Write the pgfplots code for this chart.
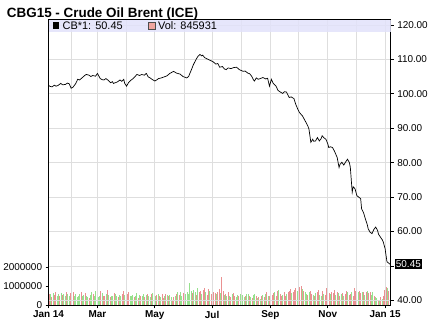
\documentclass[border=0pt]{standalone}
\usepackage{pgfplots}
\usepackage{pgfplotstable}
\pgfplotsset{compat=1.18}
\usepackage{fontspec}
\setmainfont{Liberation Sans}
\definecolor{gridc}{RGB}{222,222,222}
\definecolor{bandc}{RGB}{226,226,250}
\definecolor{volg}{RGB}{150,225,140}
\definecolor{volr}{RGB}{234,145,145}
\definecolor{legp}{RGB}{240,165,160}

% volume in thousands, u=1 up day (green), u=0 down day (red)
\pgfplotstableread{
v u
620 0
580 1
450 0
640 1
560 0
700 0
520 1
600 1
480 0
650 1
540 0
610 1
470 1
690 0
580 1
510 1
630 0
560 1
720 0
500 1
590 1
450 1
520 1
600 1
710 0
480 1
560 1
640 0
500 1
420 1
380 0
560 1
680 1
620 0
500 1
740 1
580 0
450 1
520 1
760 0
640 1
520 0
480 0
600 1
820 0
560 1
430 0
520 1
480 1
650 0
580 1
470 1
420 0
560 1
500 1
620 0
780 0
540 1
450 1
600 0
720 0
510 1
480 1
560 1
420 0
500 1
640 1
380 0
560 1
470 0
520 1
610 1
450 0
540 1
600 0
500 1
420 1
580 0
660 1
520 0
480 1
560 0
610 1
520 0
460 1
580 0
400 0
500 1
620 0
540 1
480 0
560 1
420 1
300 0
460 0
520 1
600 0
680 1
540 0
720 1
480 1
650 0
760 1
580 1
700 1
620 1
1180 1
780 1
650 0
820 1
700 1
560 0
900 1
680 0
760 0
620 1
820 0
940 0
700 1
560 0
880 0
740 1
600 0
820 1
700 0
640 0
580 1
720 0
880 0
660 1
1480 0
760 0
540 1
620 0
480 1
700 0
520 1
460 0
580 1
640 0
500 0
420 1
560 1
480 0
620 1
700 0
540 1
460 1
520 0
580 1
620 1
500 0
440 1
400 0
560 1
620 1
480 0
380 1
420 0
360 1
500 0
560 1
440 0
620 1
680 0
520 1
480 0
400 1
560 0
640 0
700 1
520 0
740 0
800 1
620 0
480 0
560 1
680 0
520 0
600 1
720 0
780 0
860 0
640 1
700 0
820 0
900 0
760 1
680 0
960 0
1020 0
860 1
780 0
700 1
620 1
560 0
680 1
740 0
620 0
560 1
500 0
640 1
700 0
820 0
560 1
480 1
760 0
620 1
540 0
900 0
780 1
640 0
580 1
700 0
640 0
820 0
560 1
720 0
660 1
500 0
580 1
640 0
520 1
600 0
760 0
680 1
560 0
620 0
700 1
480 0
900 0
760 0
820 0
700 1
760 0
640 0
720 1
680 0
560 1
700 0
780 1
640 0
720 0
560 1
680 1
500 0
440 1
380 1
300 0
260 1
420 0
360 1
480 0
820 0
960 0
900 1
760 0
880 0
}\voltable

\begin{document}
\begin{tikzpicture}
% ---------- volume axis ----------
\begin{axis}[
  at={(0pt,0pt)}, anchor=south west,
  width=344pt, height=287pt, scale only axis,
  xmin=-0.5, xmax=257.5, ymin=0, ymax=15000,
  xtick=\empty,
  axis line style={draw=none},
  scaled y ticks=false,
  ytick={0,1000,2000}, yticklabels={0,1000000,2000000},
  ytick pos=left, tick align=outside, major tick length=3pt,
  tick style={black, line width=0.6pt},
  yticklabel style={font=\fontsize{10}{12}\selectfont},
]
\addplot[ycomb, volg, line width=0.9pt, mark=none]
  table[x expr=\coordindex, y expr={\thisrow{v}*\thisrow{u}}]{\voltable};
\addplot[ycomb, volr, line width=0.9pt, mark=none]
  table[x expr=\coordindex, y expr={\thisrow{v}*(1-\thisrow{u})}]{\voltable};
\end{axis}

% ---------- price axis ----------
\begin{axis}[
  at={(0pt,0pt)}, anchor=south west,
  width=344pt, height=287pt, scale only axis,
  xmin=7, xmax=371, ymin=38.56, ymax=121.44,
  xtick={7,59,120,181,243,304,365},
  xticklabels={Jan 14,Mar,May,Jul,Sep,Nov,Jan 15},
  minor xtick={31,90,151,212,273,334},
  ytick={40,50,...,120},
  yticklabels={40.00,,60.00,70.00,80.00,90.00,100.00,110.00,120.00},
  grid=both,
  major grid style={gridc, line width=0.6pt},
  minor grid style={gridc, line width=0.6pt},
  minor tick length=0pt, major tick length=3pt, tick align=outside,
  xtick pos=bottom, ytick pos=right, yticklabel pos=right,
  axis line style={black, line width=0.8pt},
  tick style={black, line width=0.6pt},
  xticklabel style={font=\bfseries\fontsize{10}{12}\selectfont, yshift=1pt},
  yticklabel style={font=\fontsize{10}{12}\selectfont},
  clip mode=individual,
]
\fill[bandc, opacity=0.85] (rel axis cs:0,1) rectangle ([yshift=-12pt]rel axis cs:1,1);
\addplot[black, line width=0.7pt, mark=none] coordinates {
(7,102.4)(9,102.1)(11,102.0)(13,102.5)(15,102.2)(17,102.4)(20,103.0)(22,102.6)
(25,102.7)(27,103.1)(29,102.9)(31,101.6)(33,101.9)(36,103.0)(38,104.2)(40,104.0)
(43,104.7)(45,105.2)(47,105.6)(50,105.4)(52,105.0)(54,105.3)(57,105.1)(59,105.9)
(61,104.9)(62,104.4)(64,104.1)(66,104.0)(68,104.4)(70,104.0)(73,103.2)(75,103.5)
(76,103.0)(78,103.2)(80,103.4)(83,104.0)(85,103.6)(87,104.2)(88,103.0)(90,102.2)
(92,103.2)(94,103.8)(96,104.2)(99,105.0)(101,105.6)(104,105.3)(106,105.6)(109,105.4)
(111,105.9)(113,104.9)(115,104.6)(117,104.2)(120,103.7)(122,104.0)(124,104.4)(127,104.6)
(130,104.9)(133,105.2)(136,105.9)(140,106.5)(143,106.0)(147,105.7)(150,105.0)(154,104.6)
(156,105.0)(157,105.7)(159,107.0)(161,108.4)(164,110.0)(166,110.9)(168,111.4)(170,111.0)
(171,111.2)(173,110.5)(175,110.2)(178,109.8)(182,109.3)(185,108.6)(187,108.8)(189,107.7)
(192,107.9)(194,107.2)(196,107.0)(198,107.5)(201,107.3)(204,107.6)(207,107.7)(210,107.0)
(214,106.5)(216,106.6)(219,106.0)(221,105.8)(223,105.1)(225,104.0)(226,103.7)(228,104.6)
(230,104.2)(233,104.5)(235,104.7)(238,104.3)(240,104.5)(242,102.2)(244,104.2)(246,103.0)
(249,102.2)(251,101.0)(253,100.6)(256,100.1)(258,100.6)(260,100.5)(263,98.9)(265,99.1)
(268,98.6)(270,96.9)(272,95.6)(274,94.5)(277,93.6)(279,92.6)(281,91.6)(283,90.5)
(284,89.7)(286,85.9)(288,86.8)(289,86.2)(291,86.3)(293,87.3)(295,86.3)(297,87.0)
(298,87.8)(300,87.2)(302,86.8)(304,85.5)(305,84.4)(307,84.6)(309,84.4)(311,83.4)
(314,81.5)(316,78.6)(317,79.5)(319,80.1)(321,79.3)(323,80.2)(325,81.0)(327,80.0)
(328,78.6)(330,71.4)(331,73.0)(333,72.4)(335,70.4)(337,70.0)(339,69.5)(340,66.6)
(342,65.5)(344,63.7)(346,62.0)(347,60.8)(349,59.8)(351,59.4)(353,60.6)(355,61.3)
(357,60.3)(358,59.2)(360,58.4)(362,57.6)(363,57.0)(365,55.0)(366,53.0)(367,51.2)
(369,50.8)(370.5,50.45)
};
% legend band content
\fill[black] ([shift={(4pt,-9.5pt)}]rel axis cs:0,1) rectangle ++(7pt,7pt);
\node[anchor=west, inner sep=0pt, font=\fontsize{11}{12}\selectfont]
  at ([shift={(14pt,-6pt)}]rel axis cs:0,1) {CB*1: 50.45};
\filldraw[fill=legp, draw=black!70, line width=0.4pt]
  ([shift={(100pt,-9.5pt)}]rel axis cs:0,1) rectangle ++(7pt,7pt);
\node[anchor=west, inner sep=0pt, font=\fontsize{11}{12}\selectfont]
  at ([shift={(110pt,-6pt)}]rel axis cs:0,1) {Vol: 845931};
% last value box
\node[anchor=west, xshift=4pt, fill=black, text=white, inner xsep=1pt, inner ysep=1.5pt,
  font=\fontsize{10}{12}\selectfont]
  at (axis cs:371,50.45) {50.45};
\end{axis}

\node[anchor=base west, inner sep=0pt, font=\bfseries\fontsize{13.5}{15}\selectfont]
  at (-42pt,289pt) {CBG15 - Crude Oil Brent (ICE)};
\useasboundingbox (-48pt,-16pt) rectangle (383pt,307pt);
\end{tikzpicture}
\end{document}
